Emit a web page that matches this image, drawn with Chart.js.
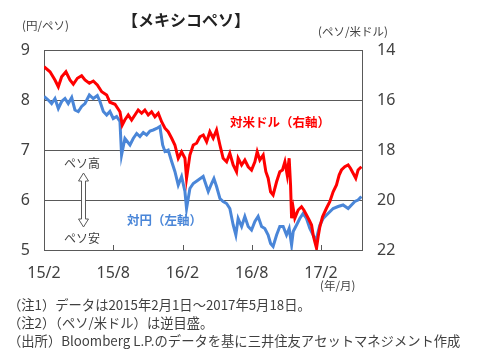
<!DOCTYPE html>
<html><head><meta charset="utf-8">
<script src="https://cdn.jsdelivr.net/npm/chart.js@4/dist/chart.umd.min.js"></script>
<style>html,body{margin:0;padding:0;background:#fff;}canvas{display:block;}</style>
</head><body>
<canvas id="c" width="479" height="360"></canvas>
<script>
// months since 2015/2/1
const tickMonths = [0, 6, 12, 18, 24];
const tickLabels = ['15/2', '15/8', '16/2', '16/8', '17/2'];
const leftTicks = [5, 6, 7, 8, 9];
const rightTicks = [14, 16, 18, 20, 22];

const usdMonths = [0,0.52,0.95,1.24,1.53,1.9,2.25,2.54,2.89,3.26,3.55,3.93,4.27,4.62,5.0,5.43,5.71,6.15,6.58,6.78,7.0,7.3,7.59,8.16,8.46,8.74,9.03,9.32,9.61,9.9,10.19,10.48,10.76,11.06,11.34,11.63,11.92,12.21,12.35,12.64,12.93,13.22,13.51,13.8,14.09,14.37,14.66,14.95,15.24,15.52,15.82,16.1,16.39,16.68,16.82,17.12,17.4,17.69,17.98,18.27,18.47,18.7,18.99,19.22,19.42,19.63,19.85,20.15,20.43,20.66,20.87,21.07,21.24,21.36,21.45,21.59,21.73,22.02,22.31,22.51,22.74,22.97,23.18,23.32,23.46,23.61,23.75,23.9,24.13,24.47,24.76,25.05,25.34,25.57,25.77,26.06,26.35,26.55,26.78,27.01,27.21,27.36,27.5];
const usdValues = [14.67,14.87,15.2,15.47,15.07,14.87,15.2,15.37,15.13,15.03,15.2,15.33,15.24,15.4,15.67,15.8,16.09,16.17,16.47,17.0,16.8,16.6,16.8,16.4,16.53,16.4,16.6,16.47,16.67,16.53,16.87,17.13,17.27,17.53,17.8,18.33,18.07,18.33,19.13,18.2,17.8,17.73,17.47,17.4,17.67,17.27,17.53,17.2,17.8,18.33,18.47,18.13,18.6,18.87,18.33,18.6,18.4,18.67,18.8,18.47,18.07,18.4,18.2,18.87,19.13,19.67,19.8,19.27,18.87,18.8,18.47,19.0,18.33,19.4,20.73,20.33,20.73,20.4,20.27,20.4,20.6,20.8,21.0,21.4,21.67,21.93,21.47,21.07,20.67,20.33,20.07,19.67,19.4,19.0,18.8,18.67,18.6,18.73,18.93,19.13,18.8,18.73,18.67];

const jpyMonths = [0,0.37,0.66,0.95,1.24,1.53,1.82,2.1,2.4,2.68,2.97,3.26,3.55,3.93,4.27,4.62,4.85,5.14,5.43,5.71,6.0,6.29,6.58,6.72,7.01,7.45,7.73,8.03,8.31,8.6,8.89,9.18,9.46,9.76,10.04,10.28,10.48,10.76,11.06,11.34,11.63,11.92,12.21,12.35,12.64,12.93,13.36,13.79,14.23,14.52,14.72,14.95,15.24,15.52,15.82,16.1,16.39,16.62,16.82,17.12,17.4,17.69,17.98,18.27,18.55,18.85,19.13,19.42,19.63,19.85,20.15,20.43,20.72,21.01,21.24,21.45,21.59,21.88,22.16,22.45,22.74,23.03,23.32,23.55,23.75,23.9,24.18,24.61,25.05,25.48,25.91,26.35,26.64,26.93,27.21,27.5];
const jpyValues = [8.07,8.0,7.93,8.03,7.83,7.97,8.03,7.93,8.05,7.8,7.77,7.87,7.93,8.1,8.03,8.09,7.97,7.77,7.7,7.77,7.63,7.67,7.57,6.9,7.23,7.1,7.23,7.33,7.27,7.35,7.3,7.38,7.4,7.43,7.47,7.1,6.97,7.0,6.77,6.57,6.3,6.47,6.17,5.83,6.23,6.33,6.4,6.47,6.17,6.33,6.43,6.27,6.03,5.97,5.93,5.83,5.5,5.3,5.63,5.47,5.67,5.47,5.4,5.57,5.67,5.47,5.43,5.3,5.13,5.07,5.3,5.47,5.47,5.3,5.43,5.1,5.37,5.5,5.63,5.73,5.63,5.43,5.3,5.17,5.37,5.5,5.63,5.73,5.83,5.87,5.9,5.83,5.9,5.97,6.0,6.07];

const usdData = usdMonths.map((m, i) => ({x: m, y: usdValues[i]}));
const jpyData = jpyMonths.map((m, i) => ({x: m, y: jpyValues[i]}));

const TXT = '#404040';
const NUMFONT = {family: 'Noto Sans', size: 16};
const JP = '"Noto Sans CJK JP", "Noto Sans", sans-serif';

const extras = {
  id: 'extras',
  afterDraw(chart) {
    const ctx = chart.ctx;
    const x = chart.scales.x, yl = chart.scales.y;
    ctx.save();
    // inward tick marks on bottom axis
    ctx.strokeStyle = '#595959'; ctx.lineWidth = 1;
    tickMonths.forEach(m => {
      if (m === 0) return;
      const px = Math.round(x.getPixelForValue(m)) + 0.5;
      ctx.beginPath(); ctx.moveTo(px, yl.bottom); ctx.lineTo(px, yl.bottom - 5); ctx.stroke();
    });
    // title
    ctx.fillStyle = '#222'; ctx.textAlign = 'center'; ctx.textBaseline = 'middle';
    ctx.font = 'bold 16px ' + JP;
    ctx.fillText('【メキシコペソ】', 186, 20);
    // unit labels
    ctx.fillStyle = TXT; ctx.font = '11.5px ' + JP;
    ctx.textAlign = 'left';
    ctx.fillText('(円/ペソ)', 22, 26);
    ctx.fillText('(ペソ/米ドル)', 318, 32);
    ctx.fillText('(年/月)', 320, 286);
    // series labels
    ctx.font = 'bold 12.5px ' + JP;
    ctx.fillStyle = '#ff0000';
    ctx.fillText('対米ドル（右軸）', 230, 122);
    ctx.fillStyle = '#4a86d8';
    ctx.fillText('対円（左軸）', 127, 220);
    // peso high/low
    ctx.fillStyle = TXT; ctx.font = '12px ' + JP;
    ctx.fillText('ペソ高', 64, 163);
    ctx.fillText('ペソ安', 64, 238);
    // hollow double arrow
    const cx = 83.5, t = 173, b = 227, hw = 5, hh = 8, sw = 2;
    ctx.beginPath();
    ctx.moveTo(cx, t);
    ctx.lineTo(cx + hw, t + hh); ctx.lineTo(cx + sw, t + hh);
    ctx.lineTo(cx + sw, b - hh); ctx.lineTo(cx + hw, b - hh);
    ctx.lineTo(cx, b);
    ctx.lineTo(cx - hw, b - hh); ctx.lineTo(cx - sw, b - hh);
    ctx.lineTo(cx - sw, t + hh); ctx.lineTo(cx - hw, t + hh);
    ctx.closePath();
    ctx.fillStyle = '#fff'; ctx.fill();
    ctx.strokeStyle = '#595959'; ctx.lineWidth = 1; ctx.stroke();
    // notes
    ctx.fillStyle = TXT; ctx.font = '13.3px ' + JP; ctx.textAlign = 'left';
    ctx.fillText('（注1）データは2015年2月1日～2017年5月18日。', 8, 305);
    ctx.fillText('（注2）（ペソ/米ドル）は逆目盛。', 8, 323);
    ctx.fillText('（出所）Bloomberg L.P.のデータを基に三井住友アセットマネジメント作成', 8, 341);
    ctx.restore();
  }
};

new Chart(document.getElementById('c'), {
  type: 'line',
  data: {
    datasets: [
      {label: '対米ドル（右軸）', data: usdData, yAxisID: 'y2', borderColor: '#ff0000', borderWidth: 3, pointRadius: 0, tension: 0, fill: false},
      {label: '対円（左軸）', data: jpyData, yAxisID: 'y', borderColor: '#4a86d8', borderWidth: 3, pointRadius: 0, tension: 0, fill: false}
    ]
  },
  options: {
    responsive: false, animation: false, devicePixelRatio: 1,
    layout: {padding: {top: 50, left: 0, right: 0, bottom: 0}},
    plugins: {legend: {display: false}, tooltip: {enabled: false}, title: {display: false}},
    scales: {
      x: {
        type: 'linear', min: 0, max: 27.55,
        afterFit(s) { s.height = 110; },
        afterBuildTicks(s) { s.ticks = tickMonths.map(v => ({value: v})); },
        ticks: {callback: (v) => tickLabels[tickMonths.indexOf(v)] ?? '', color: TXT, font: NUMFONT, padding: 14, maxRotation: 0, autoSkip: false},
        grid: {display: false, drawTicks: false},
        border: {display: true, color: '#595959', width: 1}
      },
      y: {
        position: 'left', min: 5, max: 9,
        afterFit(s) { s.width = 44; },
        afterBuildTicks(s) { s.ticks = leftTicks.map(v => ({value: v})); },
        ticks: {color: TXT, font: NUMFONT, padding: 14},
        grid: {color: '#595959', lineWidth: 1, drawTicks: false},
        border: {display: true, color: '#595959', width: 1}
      },
      y2: {
        position: 'right', min: 14, max: 22, reverse: true,
        afterFit(s) { s.width = 117; },
        afterBuildTicks(s) { s.ticks = rightTicks.map(v => ({value: v})); },
        ticks: {color: TXT, font: NUMFONT, padding: 15},
        grid: {display: false, drawTicks: false},
        border: {display: true, color: '#595959', width: 1}
      }
    }
  },
  plugins: [extras]
});
</script>
</body></html>
